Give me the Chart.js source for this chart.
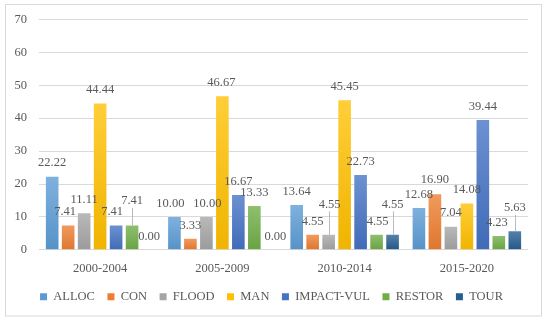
<!DOCTYPE html>
<html>
<head>
<meta charset="utf-8">
<script src="https://cdn.jsdelivr.net/npm/chart.js@4"></script>
<style>
  html, body { margin: 0; padding: 0; background: #fff; }
  #wrap { width: 550px; height: 323px; position: relative; }
</style>
</head>
<body>
<div id="wrap"><canvas id="grafico"></canvas></div>
<script>
// ── Dados ──────────────────────────────────────────────────────
const periodos = ['2000-2004', '2005-2009', '2010-2014', '2015-2020'];
const series = ['ALLOC', 'CON', 'FLOOD', 'MAN', 'IMPACT-VUL', 'RESTOR', 'TOUR'];
const alloc     = [22.22, 10.00, 13.64, 12.68];
const con       = [7.41, 3.33, 4.55, 16.90];
const flood     = [11.11, 10.00, 4.55, 7.04];
const man       = [44.44, 46.67, 45.45, 14.08];
const impactVul = [7.41, 16.67, 22.73, 39.44];
const restor    = [7.41, 13.33, 4.55, 4.23];
const tour      = [0.00, 0.00, 4.55, 5.63];
const yTicks    = [0, 10, 20, 30, 40, 50, 60, 70];

// ── Estilo ─────────────────────────────────────────────────────
const cores = ['#5B9BD5', '#ED7D31', '#A5A5A5', '#FFC000', '#4472C4', '#70AD47', '#255E91'];
const FONTE = '"Liberation Serif", "DejaVu Serif", serif';
const TEXTO = '#595959';
const TAM = 12.5;

// ajuste dos rótulos (dx em px, elevação extra em px) por série/período
const rotuloDx = [
  [0, -4, 0, 0],
  [-3, 0, 0, 0],
  [0, 1, 1, 0],
  [0, -1, 0, 0],
  [-4, 0, 0, 0],
  [0, 0, 1, -2],
  [1, 5, 0, 0]
];
const rotuloLift = [
  [0, 0, 0, 0],
  [0, 0, 0, 1],
  [0, 0, 17, 0],
  [0, 0, 0, 0],
  [0, 0, 0, 0],
  [11, 0, 0, 0],
  [0, 0, 17, 10]
];

function mix(hex, alvo, t) {
  const n = parseInt(hex.slice(1), 16);
  const c = [(n >> 16) & 255, (n >> 8) & 255, n & 255];
  return 'rgb(' + c.map(v => Math.round(v + (alvo - v) * t)).join(',') + ')';
}

function gradiente(cor) {
  return ctx => {
    const chart = ctx.chart;
    if (ctx.type !== 'data' || !chart.chartArea) return cor;
    const y = chart.scales.y;
    const topo = y.getPixelForValue(ctx.raw);
    const base = y.getPixelForValue(0);
    if (base - topo < 1) return cor;
    const g = chart.ctx.createLinearGradient(0, topo, 0, base);
    g.addColorStop(0, mix(cor, 255, 0.22));
    g.addColorStop(1, mix(cor, 0, 0.06));
    return g;
  };
}

const valores = [alloc, con, flood, man, impactVul, restor, tour];

// ── Plugins ────────────────────────────────────────────────────
const moldura = {
  id: 'moldura',
  beforeDraw(chart) {
    const c = chart.ctx;
    c.save();
    c.strokeStyle = '#d9d9d9';
    c.lineWidth = 1;
    c.strokeRect(5.5, 4.5, 536, 311.5);
    c.restore();
  }
};

const rotulos = {
  id: 'rotulos',
  afterDatasetsDraw(chart) {
    const c = chart.ctx;
    c.save();
    c.font = TAM + 'px ' + FONTE;
    c.fillStyle = TEXTO;
    c.textAlign = 'center';
    c.textBaseline = 'middle';
    chart.data.datasets.forEach((ds, s) => {
      chart.getDatasetMeta(s).data.forEach((el, i) => {
        const lift = rotuloLift[s][i];
        const x = el.x + rotuloDx[s][i];
        const y = el.y - 13.5 - lift;
        if (lift > 5) {
          c.strokeStyle = '#b4bcc8';
          c.lineWidth = 1;
          c.beginPath();
          c.moveTo(Math.round(el.x) + 0.5, y + 7);
          c.lineTo(Math.round(el.x) + 0.5, el.y);
          c.stroke();
        }
        c.fillText(ds.data[i].toFixed(2), x, y);
      });
    });
    c.restore();
  }
};

// ── Gráfico ────────────────────────────────────────────────────
new Chart(document.getElementById('grafico'), {
  type: 'bar',
  data: {
    labels: periodos,
    datasets: series.map((nome, s) => ({
      label: nome,
      data: valores[s],
      backgroundColor: gradiente(cores[s]),
      borderWidth: 0,
      barPercentage: 0.79,
      categoryPercentage: 0.915
    }))
  },
  options: {
    responsive: true,
    maintainAspectRatio: false,
    animation: false,
    layout: { padding: { top: 19, left: 15, right: 22, bottom: 10 } },
    plugins: {
      tooltip: { enabled: false },
      legend: {
        position: 'bottom',
        labels: {
          boxWidth: 7, boxHeight: 7, padding: 12.5,
          color: TEXTO, font: { family: FONTE, size: TAM },
          generateLabels: chart => chart.data.datasets.map((ds, s) => ({
            text: ds.label, fillStyle: cores[s], strokeStyle: cores[s],
            lineWidth: 0, hidden: false, datasetIndex: s, fontColor: TEXTO
          }))
        }
      }
    },
    scales: {
      x: {
        grid: { display: false, drawTicks: false },
        border: { display: false },
        ticks: { color: TEXTO, font: { family: FONTE, size: TAM }, padding: 11.5 },
        afterFit: ax => { ax.height = 28.2; }
      },
      y: {
        min: 0, max: 70,
        grid: { color: '#d9d9d9', lineWidth: 1, drawTicks: false },
        border: { display: false },
        ticks: { color: TEXTO, font: { family: FONTE, size: TAM }, padding: 12, stepSize: 10 },
        afterBuildTicks: ax => { ax.ticks = yTicks.map(v => ({ value: v })); },
        afterFit: ax => { ax.width = 24; }
      }
    }
  },
  plugins: [moldura, rotulos]
});
</script>
</body>
</html>
